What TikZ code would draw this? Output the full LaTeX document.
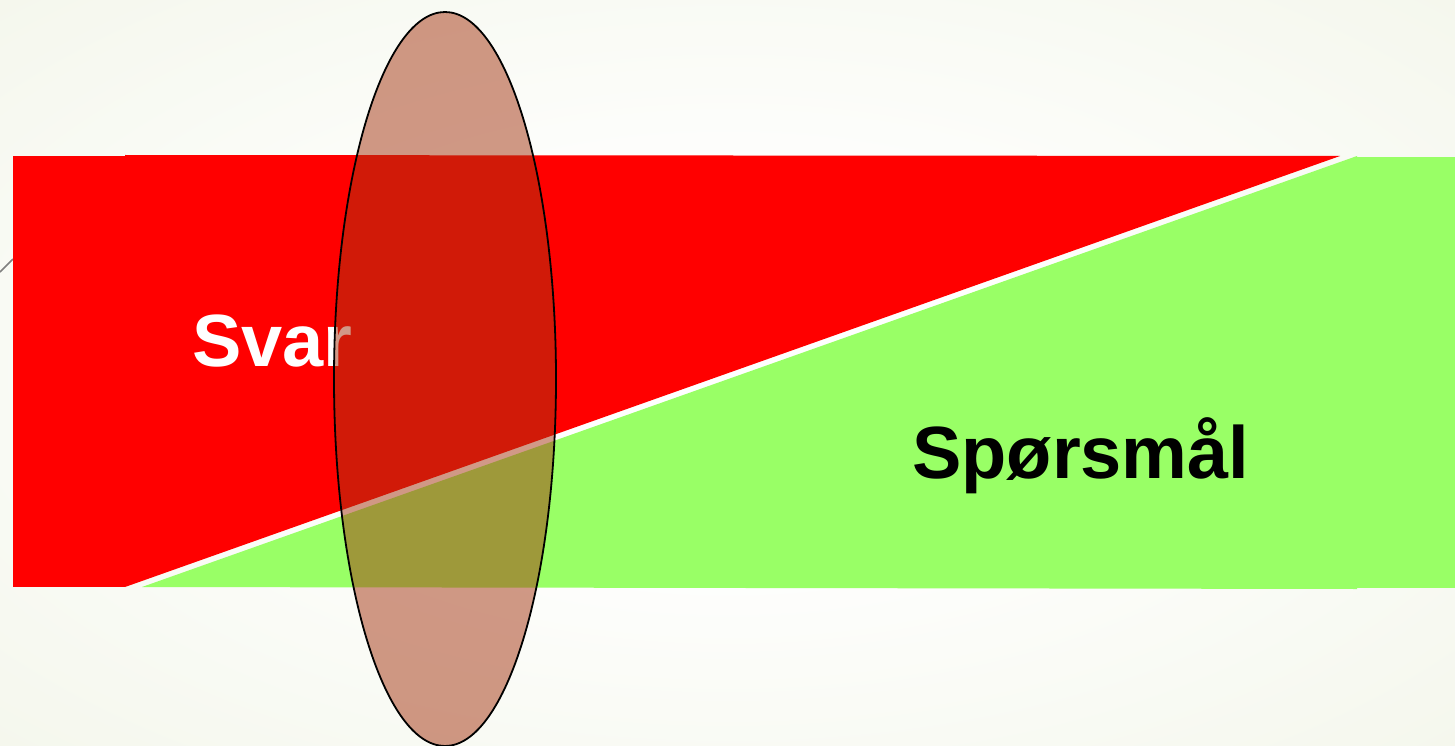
\documentclass[tikz,border=0pt]{standalone}
\usepackage{fontspec}
\setmainfont{Liberation Sans}
\usetikzlibrary{shapes.geometric}
\definecolor{bgedge}{RGB}{234,239,218}
\definecolor{svarred}{RGB}{255,0,0}
\definecolor{spmgreen}{RGB}{153,255,102}
\definecolor{lensbrown}{RGB}{164,52,16}
\pgfdeclareradialshading{slidebg}{\pgfpoint{0bp}{0bp}}{color(0bp)=(white); color(10bp)=(white); color(62bp)=(bgedge); color(75bp)=(bgedge)}

\begin{document}
\begin{tikzpicture}[x=1pt,y=-1pt,
    every node/.style={font=\fontsize{74}{80}\selectfont\bfseries, inner sep=0pt},
    redzone/.style={fill=svarred, draw=none},
    greenzone/.style={fill=spmgreen, draw=none},
    lens/.style={ellipse, draw=black, line width=1.8pt, fill=lensbrown, fill opacity=0.5, minimum width=222pt, minimum height=734pt},
]
\useasboundingbox (0,0) rectangle (1455,746);
\shade[shading=slidebg] (0,0) rectangle (1455,746);
\draw[gray, line width=1.5pt] (0,272) -- (13,259);
% red part
\fill[redzone] (13,156) rectangle (125,587);
\fill[redzone] (125,155) -- (1340,156) -- (125,587) -- cycle;
% green part
\fill[greenzone] (142,587) -- (1357,156) -- (1357,589) -- cycle;
\fill[greenzone] (1357,157) rectangle (1455,588);
\node[white, anchor=base west] (svar) at (192,366) {Svar};
\node[anchor=base west] (sporsmal) at (912,478) {Spørsmål};
\node[lens] (linse) at (445,379) {};
\end{tikzpicture}
\end{document}
